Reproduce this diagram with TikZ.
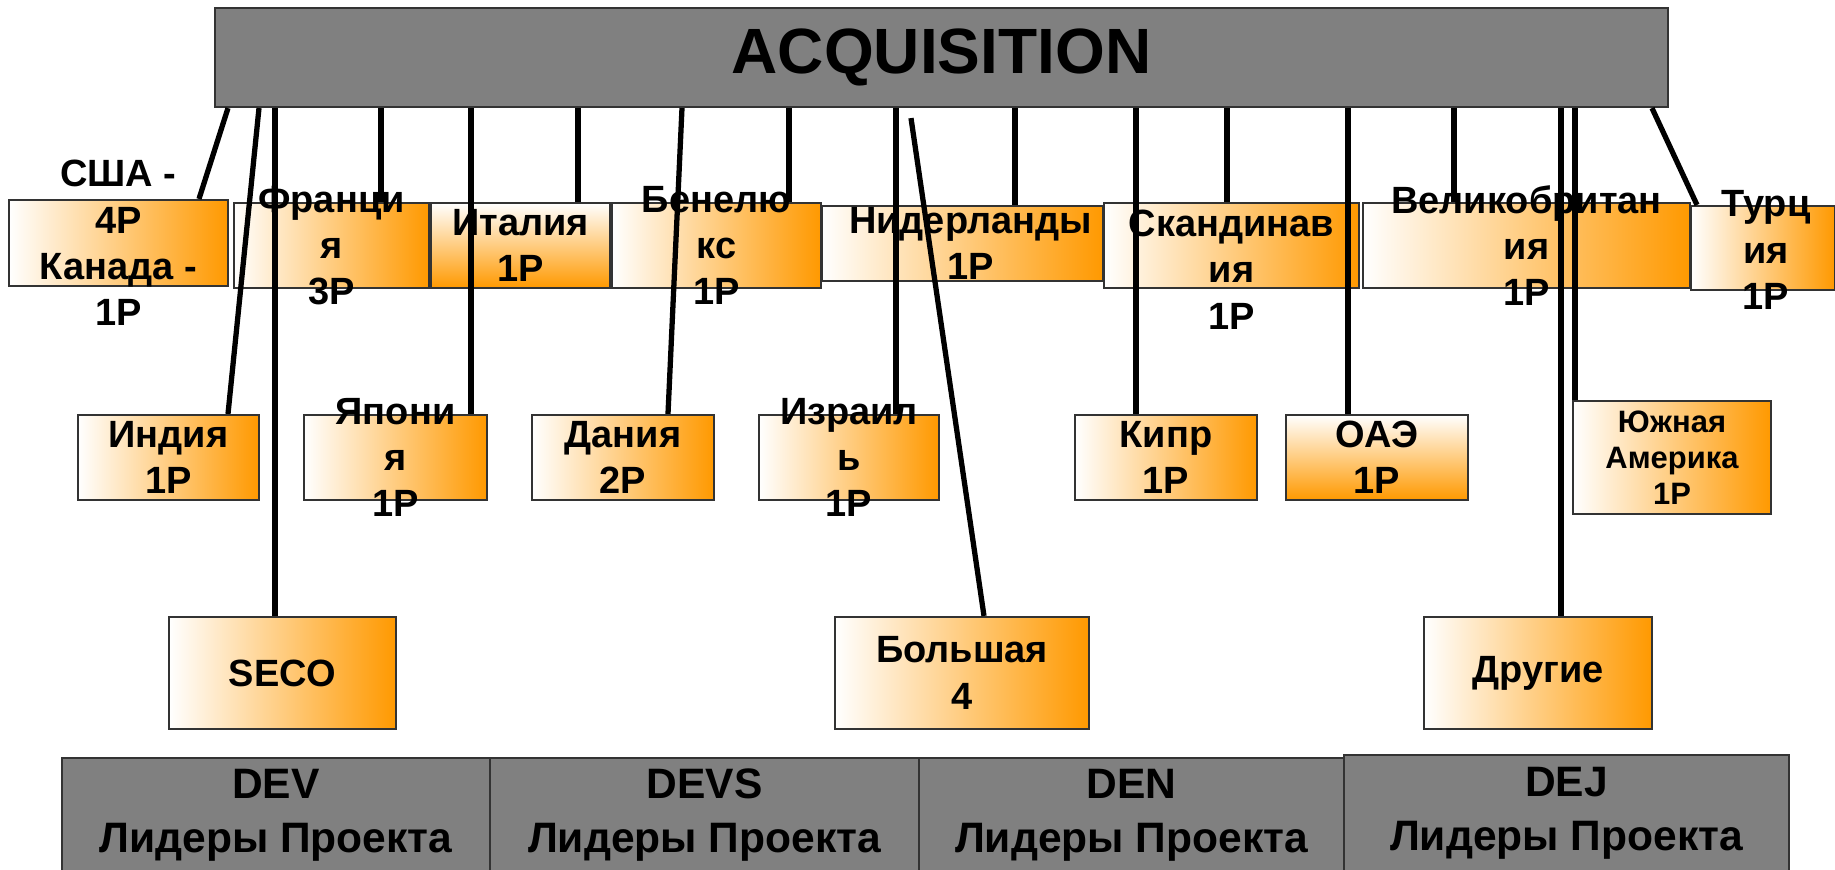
\documentclass[tikz,border=0pt]{standalone}
\usepackage{fontspec}
\setmainfont{Liberation Sans}
\usetikzlibrary{calc}
\definecolor{orng}{RGB}{255,153,0}
\definecolor{grey}{RGB}{128,128,128}
\newcommand{\boxfont}{\fontsize{10.8}{13.2}\selectfont\bfseries}
\newcommand{\smallboxfont}{\fontsize{8.8}{10.2}\selectfont\bfseries}
\newcommand{\teamfont}{\fontsize{12.1}{15.4}\selectfont\bfseries}
\newcommand{\acqfont}{\fontsize{18.2}{20}\selectfont\bfseries}
\tikzset{
  cbox/.style={draw=black!80, line width=0.6pt, inner sep=0pt},
  hbox/.style={cbox, left color=white, right color=orng},
  vbox/.style={cbox, top color=white, bottom color=orng},
  gbox/.style={cbox, fill=grey, align=center},
  txt/.style={align=center, font=\boxfont, inner sep=0pt},
  link/.style={line width=1.5pt}
}
\begin{document}
\begin{tikzpicture}[x=0.01cm, y=-0.01cm]
  \useasboundingbox (0,0) rectangle (1835,869);
  % Acquisition
  \node[gbox, minimum width=14.53cm, minimum height=0.99cm, font=\acqfont] (acq) at (941.5,57.5) {ACQUISITION};
  % - first row
  \node[hbox, minimum width=2.19cm, minimum height=0.86cm] (usa) at (118.5,243) {};
  \node[hbox, minimum width=1.95cm, minimum height=0.85cm] (fra) at (331.5,245.5) {};
  \node[vbox, minimum width=1.79cm, minimum height=0.85cm] (ita) at (520.5,245.5) {};
  \node[hbox, minimum width=2.09cm, minimum height=0.85cm] (ben) at (716.5,245.5) {};
  \node[hbox, minimum width=2.81cm, minimum height=0.75cm] (ned) at (962.5,243.5) {};
  \node[hbox, minimum width=2.55cm, minimum height=0.85cm] (sca) at (1231.5,245.5) {};
  \node[hbox, minimum width=3.27cm, minimum height=0.85cm] (gbr) at (1526.5,245.5) {};
  \node[hbox, minimum width=1.44cm, minimum height=0.84cm] (tur) at (1763,248) {};
  % - second row
  \node[hbox, minimum width=1.81cm, minimum height=0.85cm] (ind) at (168.5,457.5) {};
  \node[hbox, minimum width=1.83cm, minimum height=0.85cm] (jap) at (395.5,457.5) {};
  \node[hbox, minimum width=1.82cm, minimum height=0.85cm] (dan) at (623,457.5) {};
  \node[hbox, minimum width=1.80cm, minimum height=0.85cm] (isr) at (849,457.5) {};
  \node[hbox, minimum width=1.82cm, minimum height=0.85cm] (cyp) at (1166,457.5) {};
  \node[vbox, minimum width=1.82cm, minimum height=0.85cm] (uae) at (1377,457.5) {};
  \node[hbox, minimum width=1.98cm, minimum height=1.13cm] (sam) at (1672,457.5) {};
  % - third row
  \node[hbox, minimum width=2.27cm, minimum height=1.12cm, font=\boxfont] (seco) at (282.5,673) {SECO};
  \node[hbox, minimum width=2.54cm, minimum height=1.12cm, font=\boxfont, align=center] (big) at (962,673) {Большая\\4};
  \node[hbox, minimum width=2.28cm, minimum height=1.12cm, font=\boxfont] (oth) at (1538,673) {Другие};
  % Teams
  \node[gbox, minimum width=4.28cm, minimum height=1.14cm, font=\teamfont] (dev) at (276,815) {DEV\\Лидеры Проекта};
  \node[gbox, minimum width=4.29cm, minimum height=1.14cm, font=\teamfont] (devs) at (704.5,815) {DEVS\\Лидеры Проекта};
  \node[gbox, minimum width=4.25cm, minimum height=1.14cm, font=\teamfont] (den) at (1131.5,815) {DEN\\Лидеры Проекта};
  \node[gbox, minimum width=4.45cm, minimum height=1.17cm, font=\teamfont] (dej) at (1566.5,813.5) {DEJ\\Лидеры Проекта};
  % Links
  \foreach \a/\b/\n in {228/199/usa, 259/228/ind, 275/275/seco, 381/381/fra, 471/471/jap,
      578/578/ita, 682/668/dan, 789/789/ben, 896/896/isr, 1015/1015/ned, 1136/1136/cyp,
      1227/1227/sca, 1348/1348/uae, 1454/1454/gbr, 1561/1561/oth, 1575/1575/sam, 1652/1697/tur}
    \draw[link] (acq.south -| \a,0) -- (\n.north -| \b,0);
  \draw[link] ($(acq.south -| 911,0)+(0,10)$) -- (big.north -| 984,0);
  % Labels
  \node[txt] (usa-t) at (usa) {США -\\4P\\Канада -\\1P};
  \node[txt] (fra-t) at (fra) {Франци\\я\\3P};
  \node[txt] (ita-t) at (ita) {Италия\\1P};
  \node[txt] (ben-t) at (ben) {Бенелю\\кс\\1P};
  \node[txt] (ned-t) at (970.5,243.5) {Нидерланды\\1P};
  \node[txt] (sca-t) at (1231.5,269.5) {Скандинав\\ия\\1P};
  \node[txt] (gbr-t) at (gbr) {Великобритан\\ия\\1P};
  \node[txt] (tur-t) at (1766,250) {Турц\\ия\\1P};
  \node[txt] (ind-t) at (ind) {Индия\\1P};
  \node[txt] (jap-t) at (jap) {Япони\\я\\1P};
  \node[txt] (dan-t) at (dan) {Дания\\2P};
  \node[txt] (isr-t) at (isr) {Израил\\ь\\1P};
  \node[txt] (cyp-t) at (cyp) {Кипр\\1P};
  \node[txt] (uae-t) at (uae) {ОАЭ\\1P};
  \node[txt, font=\smallboxfont] (sam-t) at (sam) {Южная\\Америка\\1P};
\end{tikzpicture}
\end{document}
